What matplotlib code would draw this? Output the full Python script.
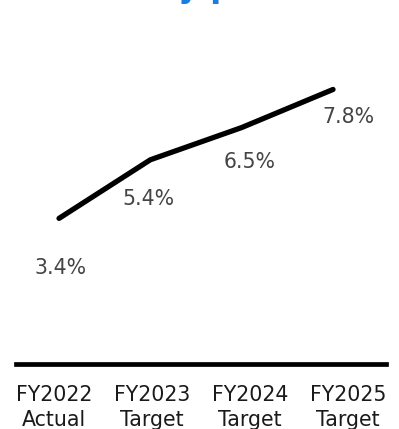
import matplotlib
matplotlib.use("Agg")
import matplotlib.pyplot as plt

categories = ["FY2022\nActual", "FY2023\nTarget", "FY2024\nTarget", "FY2025\nTarget"]
values = [3.4, 5.4, 6.5, 7.8]
value_labels = ["3.4%", "5.4%", "6.5%", "7.8%"]
title = "Profitability plan"

W, H = 399, 429
fig = plt.figure(figsize=(W / 100, H / 100), dpi=100)

# title: only its descenders fall inside the picture, as in the reference
title_kw = dict(color="#1a7ee0", fontsize=23, fontweight="bold")
renderer = fig.canvas.get_renderer()
probe = fig.text(0, 0, "Profitabilit", **title_kw)
w_pre = probe.get_window_extent(renderer).width
probe.remove()
fig.text((178 - w_pre) / W, 1 + 3 / H, title, ha="left", va="baseline", **title_kw)

# line axes
left, right = 16, 386
bottom_px, top_px = 364, 60
ax = fig.add_axes([left / W, 1 - bottom_px / H, (right - left) / W, (bottom_px - top_px) / H])
ax.set_xlim(-0.471, 3.580)
ax.set_ylim((318 - bottom_px) / 29.3, (318 - top_px) / 29.3)
ax.axis("off")
xs = list(range(len(values)))
ax.plot(xs, values, color="black", lw=3.8, solid_capstyle="round", solid_joinstyle="round")

label_offsets = [(2, -50), (-2, -39), (8, -34), (15, -28)]
for x, v, lab, (dx, dy) in zip(xs, values, value_labels, label_offsets):
    ax.annotate(lab, (x, v), xytext=(dx * 0.72, dy * 0.72), textcoords="offset points",
                ha="center", va="center", fontsize=14.8, color="#444444")

# category axes
ax2 = fig.add_axes([left / W, 1 - bottom_px / H, (right - left) / W, 0.001])
ax2.set_xlim(-0.387, 3.390)
for s in ["top", "left", "right"]:
    ax2.spines[s].set_visible(False)
ax2.spines["bottom"].set_linewidth(3.4)
ax2.spines["bottom"].set_color("black")
ax2.set_yticks([])
ax2.set_xticks(range(len(categories)))
ax2.set_xticklabels(categories, fontsize=14.8, color="#1a1a1a", linespacing=1.32)
ax2.tick_params(axis="x", length=0, pad=15)
ax2.patch.set_visible(False)

fig.savefig("out.png", dpi=100)
